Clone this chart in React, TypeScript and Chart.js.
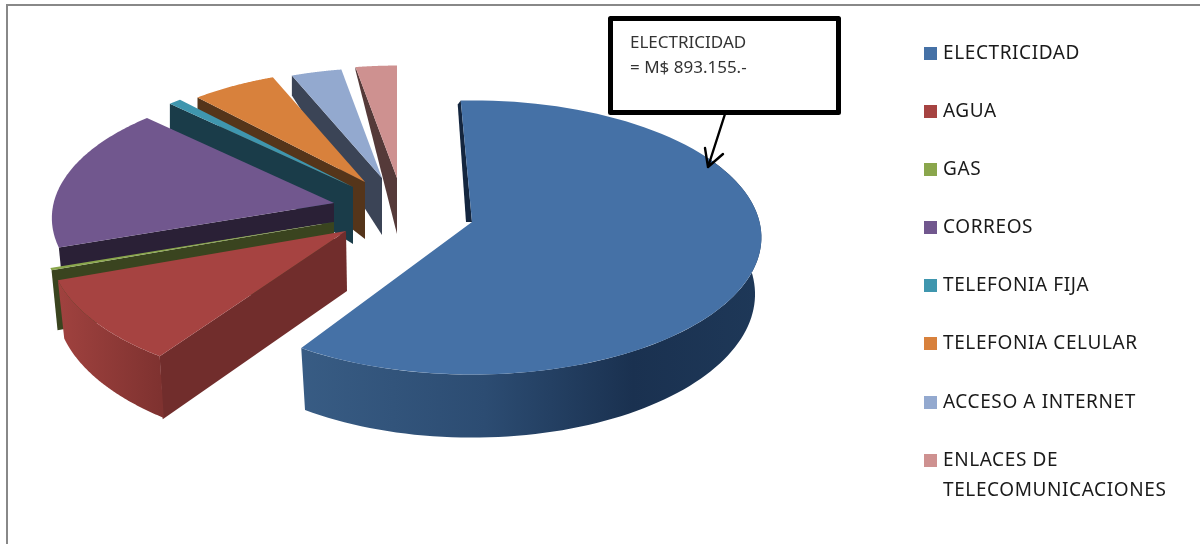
import React, { useEffect, useRef } from "react";
import { Chart, registerables } from "chart.js";

Chart.register(...registerables);

// Values (M$)
const categories: (string | string[])[] = [
  "ELECTRICIDAD",
  "AGUA",
  "GAS",
  "CORREOS",
  "TELEFONIA FIJA",
  "TELEFONIA CELULAR",
  "ACCESO A INTERNET",
  ["ENLACES DE", "TELECOMUNICACIONES"],
];
const gastos = [893155, 145400, 4150, 261700, 12460, 85160, 51930, 41540];
const colores = ["#4571a6", "#a64341", "#8aa64c", "#71578e", "#3f96ae", "#d8813c", "#93a9cf", "#ce9190"];

const annotationLines = ["ELECTRICIDAD", "= M$ 893.155.-"];

// Drawing geometry of the exploded 3D pie (not data)
const RX = 289;
const RY = 136;
const PERSPECTIVE = 0.1127;
const DEPTH = 56;
const SHEAR = 0.022;
type Geo = {
  apex: [number, number];
  k: number;
  spin?: number;
  wall?: [string, string][];
  cut?: { apex: [number, number]; outer: [number, number]; color: string };
};
const geometry: Geo[] = [
  {
    apex: [472, 222], k: 0.995, spin: -2.5,
    wall: [["0", "#385c84"], ["0.4", "#2c4c72"], ["0.72", "#1a3150"], ["1", "#1e3858"]],
    cut: { apex: [-6, 0], outer: [-3, 4], color: "#14263f" },
  },
  {
    apex: [346, 231], k: 1.02,
    wall: [["0", "#a0423f"], ["1", "#7f3230"]],
    cut: { apex: [1, 60], outer: [3, 63], color: "#712d2c" },
  },
  { apex: [334, 222], k: 1, cut: { apex: [0, 58], outer: [6, 60], color: "#3a441f" } },
  { apex: [334, 203], k: 0.97, cut: { apex: [0, 19], outer: [2, 20], color: "#2a2036" } },
  { apex: [353, 187], k: 0.95, cut: { apex: [0, 57], outer: [0, 25], color: "#1a3c49" } },
  { apex: [365, 182], k: 0.92, cut: { apex: [0, 57], outer: [0, 12], color: "#55351a" } },
  { apex: [382, 178], k: 0.9, cut: { apex: [0, 57], outer: [0, 20], color: "#3b4456" } },
  { apex: [397, 178], k: 0.92, cut: { apex: [0, 56], outer: [0, 3], color: "#553a39" } },
];
const drawOrder = [7, 6, 5, 4, 3, 2, 1, 0];

const legendRows = [54, 112, 170, 228, 286, 344, 403, 461];

const project = (g: Geo, theta: number): [number, number] => {
  const s = g.k / (1 + PERSPECTIVE * Math.cos(theta));
  return [g.apex[0] + RX * Math.sin(theta) * s, g.apex[1] - RY * Math.cos(theta) * s];
};

const pie3d = {
  id: "pie3d",
  beforeDraw(chart: any) {
    const ctx = chart.ctx;
    ctx.save();
    ctx.fillStyle = "#ffffff";
    ctx.fillRect(0, 0, chart.width, chart.height);
    ctx.fillStyle = "#888888";
    ctx.fillRect(6, 4, chart.width - 6, 2);
    ctx.fillRect(6, 4, 2, chart.height - 4);
    ctx.restore();
  },
  beforeDatasetsDraw(chart: any) {
    const ctx = chart.ctx;
    const meta = chart.getDatasetMeta(0);
    const N = 90;
    ctx.save();
    drawOrder.forEach((i) => {
      const el = meta.data[i];
      const g = geometry[i];
      const spin = ((g.spin || 0) * Math.PI) / 180;
      const a0 = el.startAngle + Math.PI / 2 + spin;
      const a1 = el.endAngle + Math.PI / 2 + spin;
      const P0 = project(g, a0);

      if (g.cut) {
        const { apex, outer, color } = g.cut;
        ctx.beginPath();
        ctx.moveTo(g.apex[0], g.apex[1]);
        ctx.lineTo(P0[0], P0[1]);
        ctx.lineTo(P0[0] + outer[0], P0[1] + outer[1]);
        ctx.lineTo(g.apex[0] + apex[0], g.apex[1] + apex[1]);
        ctx.closePath();
        ctx.fillStyle = color;
        ctx.fill();
      }

      if (g.wall) {
        const from = Math.max(a0, Math.PI / 3);
        const top: [number, number][] = [];
        const bottom: [number, number][] = [];
        for (let n = 0; n <= N; n++) {
          const t = from + ((a1 - from) * n) / N;
          const p = project(g, t);
          const s = 1 / (1 + PERSPECTIVE * Math.cos(t));
          top.push(p);
          bottom.push([p[0] - SHEAR * (p[0] - g.apex[0]), p[1] + DEPTH * s]);
        }
        const xs = top.map((p) => p[0]);
        const grad = ctx.createLinearGradient(Math.min(...xs), 0, Math.max(...xs), 0);
        g.wall.forEach(([o, c]) => grad.addColorStop(Number(o), c));
        ctx.beginPath();
        top.forEach((p, n) => (n ? ctx.lineTo(p[0], p[1]) : ctx.moveTo(p[0], p[1])));
        bottom.reverse().forEach((p) => ctx.lineTo(p[0], p[1]));
        ctx.closePath();
        ctx.fillStyle = grad;
        ctx.fill();
      }

      ctx.beginPath();
      ctx.moveTo(g.apex[0], g.apex[1]);
      for (let n = 0; n <= N; n++) {
        const p = project(g, a0 + ((a1 - a0) * n) / N);
        ctx.lineTo(p[0], p[1]);
      }
      ctx.closePath();
      ctx.fillStyle = el.options.backgroundColor;
      ctx.fill();
    });
    ctx.restore();
    return false;
  },
  afterDraw(chart: any) {
    const ctx = chart.ctx;
    ctx.save();
    // Legend
    const labels = chart.data.labels;
    const bg = chart.data.datasets[0].backgroundColor;
    ctx.font = "19px 'Noto Sans'";
    (ctx as any).letterSpacing = "0.6px";
    ctx.textBaseline = "middle";
    ctx.textAlign = "left";
    labels.forEach((lab: any, i: number) => {
      const y = legendRows[i];
      ctx.fillStyle = bg[i];
      ctx.fillRect(924, y - 7, 13, 13);
      ctx.fillStyle = "#1a1a1a";
      const lines = Array.isArray(lab) ? lab : [lab];
      lines.forEach((l: string, j: number) => ctx.fillText(l, 943, y + j * 30));
    });

    // Annotation box
    ctx.strokeStyle = "#000000";
    ctx.lineWidth = 5;
    ctx.lineJoin = "round";
    ctx.strokeRect(610.5, 18.5, 228, 94);
    ctx.font = "17px 'Noto Sans'";
    (ctx as any).letterSpacing = "0px";
    ctx.fillStyle = "#333333";
    ctx.textBaseline = "alphabetic";
    annotationLines.forEach((l, j) => ctx.fillText(l, 630, 48 + j * 25));

    // Arrow
    ctx.lineWidth = 2.4;
    ctx.lineCap = "round";
    ctx.beginPath();
    ctx.moveTo(725, 114);
    ctx.lineTo(708, 167);
    ctx.moveTo(705, 148);
    ctx.lineTo(708, 167);
    ctx.lineTo(723, 154);
    ctx.stroke();
    ctx.restore();
  },
};

export default function App() {
  const ref = useRef<HTMLCanvasElement>(null);
  useEffect(() => {
    document.body.style.margin = "0";
    const chart = new Chart(ref.current!, {
      type: "pie",
      data: {
        labels: categories as any,
        datasets: [{ data: gastos, backgroundColor: colores, borderWidth: 0 }],
      },
      options: {
        animation: false,
        responsive: false,
        devicePixelRatio: 1,
        plugins: { legend: { display: false }, tooltip: { enabled: false } },
      },
      plugins: [pie3d as any],
    });
    return () => chart.destroy();
  }, []);
  return <canvas ref={ref} width={1200} height={544} style={{ display: "block" }} />;
}
